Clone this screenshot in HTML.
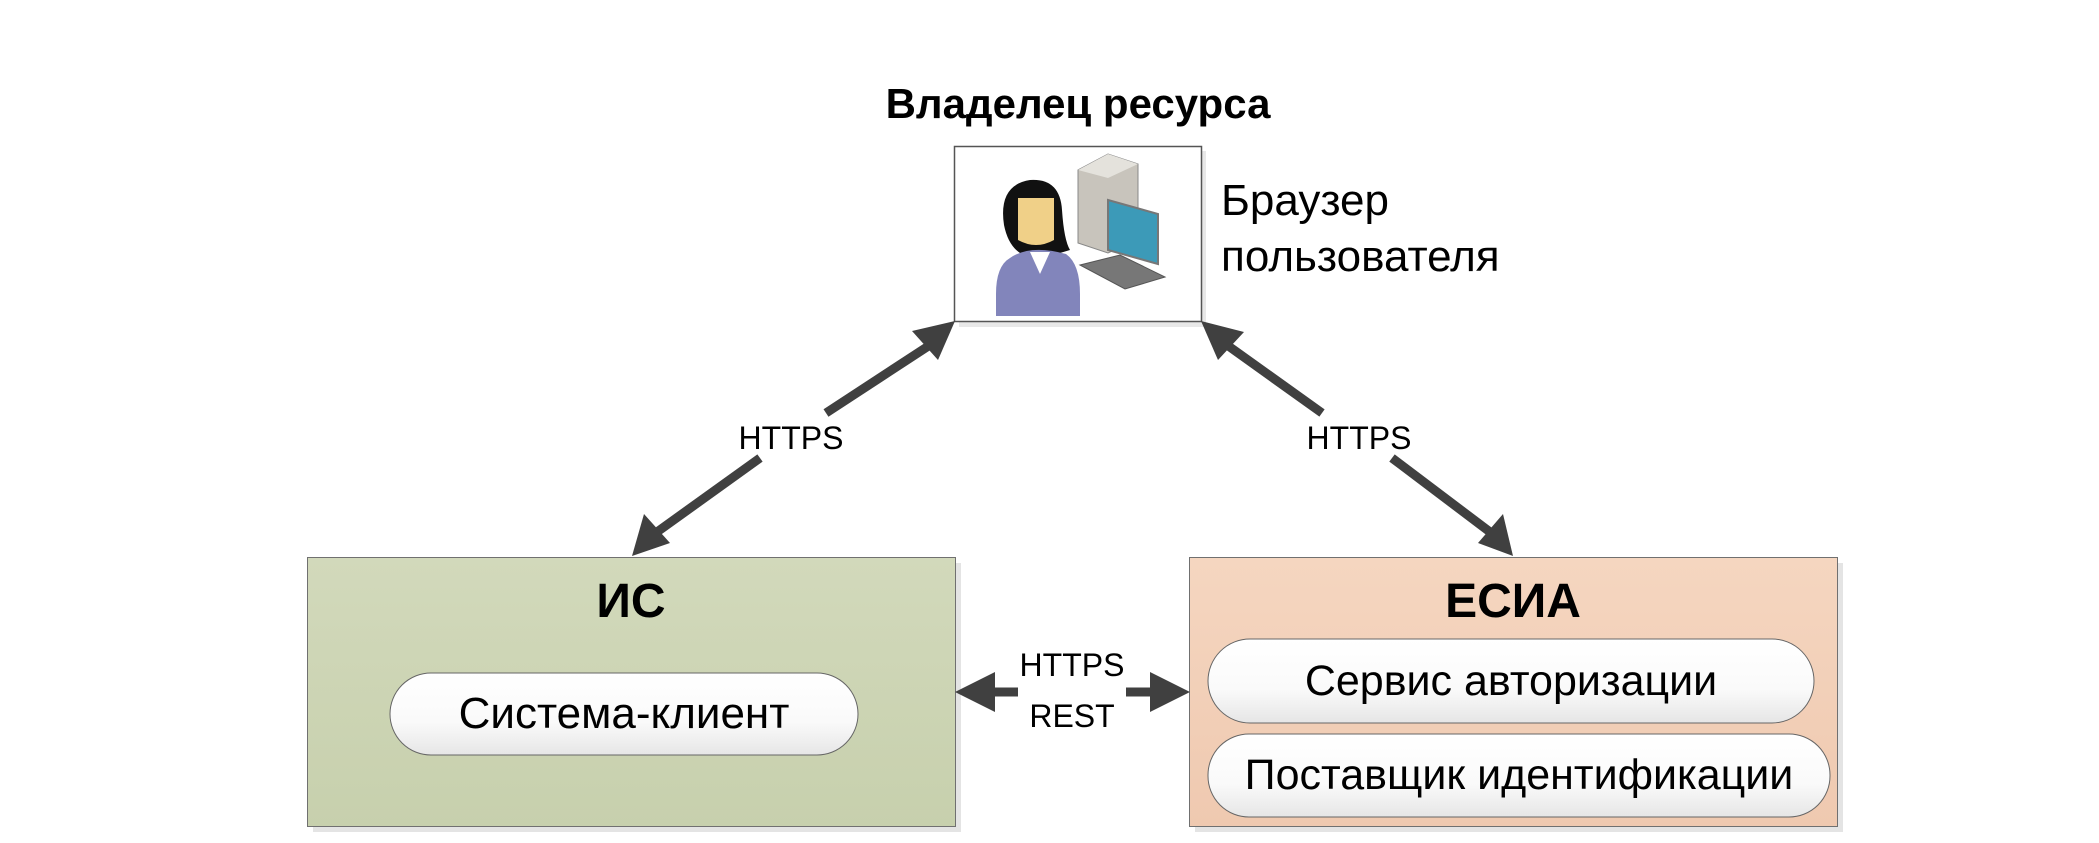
<!DOCTYPE html>
<html><head><meta charset="utf-8"><style>
html,body{margin:0;padding:0;background:#fff;}
body{width:2099px;height:843px;position:relative;overflow:hidden;font-family:"Liberation Sans","DejaVu Sans",sans-serif;}
div{white-space:nowrap;}
</style></head><body>
<svg width="2099" height="843" viewBox="0 0 2099 843" xmlns="http://www.w3.org/2000/svg" style="position:absolute;left:0;top:0">
<defs>
<linearGradient id="g1" x1="0" y1="0" x2="0" y2="1"><stop offset="0" stop-color="#d2d9bb"/><stop offset="1" stop-color="#c7d0ad"/></linearGradient>
<linearGradient id="g2" x1="0" y1="0" x2="0" y2="1"><stop offset="0" stop-color="#f5d6c0"/><stop offset="1" stop-color="#efc9b0"/></linearGradient>
<linearGradient id="pill" x1="0" y1="0" x2="0" y2="1"><stop offset="0" stop-color="#ffffff"/><stop offset="0.6" stop-color="#fafafa"/><stop offset="1" stop-color="#e6e6e6"/></linearGradient>
</defs>
<rect x="313" y="563" width="648" height="269" fill="#e4e4e4"/>
<rect x="1195" y="563" width="648" height="269" fill="#e4e4e4"/>
<rect x="959" y="151" width="247" height="176" fill="#e8e8e8"/>
<rect x="307.5" y="557.5" width="648" height="269" fill="url(#g1)" stroke="#707070" stroke-width="1"/>
<rect x="1189.5" y="557.5" width="648" height="269" fill="url(#g2)" stroke="#707070" stroke-width="1"/>
<rect x="954.5" y="146.5" width="247" height="175" fill="#fff" stroke="#555" stroke-width="1.5"/>
<rect x="390" y="673" width="468" height="82" rx="41" fill="url(#pill)" stroke="#666" stroke-width="1"/>
<rect x="1208" y="639" width="606" height="84" rx="42" fill="url(#pill)" stroke="#666" stroke-width="1"/>
<rect x="1208" y="734" width="622" height="83" rx="41" fill="url(#pill)" stroke="#666" stroke-width="1"/>
<path d="M1004 225 q-6 -40 26 -45 q30 -2 32 30 q2 30 8 40 l-10 3 q-20 5 -40 0 q-12 -8 -16 -28z" fill="#111"/>
<path d="M1018 198 h36 v42 q-18 10 -36 0z" fill="#f0d088"/>
<path d="M1010 258 q20 -14 56 -4 q14 10 14 40 v22 h-84 v-22 q0 -28 14 -36z" fill="#8285bb"/>
<path d="M1030 252 l10 22 l10 -22z" fill="#fff"/>
<path d="M1078 170 l30 -16 l30 10 v75 l-30 14 l-30 -10z" fill="#c8c4bc" stroke="#888" stroke-width="1"/>
<path d="M1108 154 l30 10 l-30 14 l-30 -8z" fill="#e4e2dc"/>
<path d="M1108 200 l50 14 v50 l-50 -14z" fill="#3c9ab8" stroke="#777" stroke-width="2"/>
<path d="M1080 265 l40 -10 l45 22 l-40 12z" fill="#777" stroke="#555" stroke-width="1"/>
</svg>
<svg width="2099" height="843" style="position:absolute;left:0;top:0" xmlns="http://www.w3.org/2000/svg">
<g stroke="#404040" stroke-width="9" fill="none">
<line x1="930" y1="345" x2="826" y2="413"/>
<line x1="760" y1="458" x2="657" y2="532"/>
<line x1="1227" y1="345" x2="1322" y2="413"/>
<line x1="1392" y1="458" x2="1490" y2="532"/>
<line x1="993" y1="692" x2="1018" y2="692"/>
<line x1="1126" y1="692" x2="1152" y2="692"/>
</g>
<g fill="#404040">
<polygon points="955,321 912,331 938,360"/>
<polygon points="632,556 644,514 670,543"/>
<polygon points="1201,321 1218,360 1244,332"/>
<polygon points="1513,556 1478,543 1503,514"/>
<polygon points="955,692 995,672 995,712"/>
<polygon points="1190,692 1150,672 1150,712"/>
</g>
</svg>
<div style="position:absolute;left:778px;top:80px;width:600px;text-align:center;font-weight:bold;font-size:42px;line-height:48px">Владелец ресурса</div>
<div style="position:absolute;left:1221px;top:173px;font-size:44px;line-height:56px">Браузер<br>пользователя</div>
<div style="position:absolute;left:711px;top:419px;width:160px;text-align:center;font-size:32px;line-height:38px">HTTPS</div>
<div style="position:absolute;left:1279px;top:419px;width:160px;text-align:center;font-size:32px;line-height:38px">HTTPS</div>
<div style="position:absolute;left:992px;top:640px;width:160px;text-align:center;font-size:32px;line-height:51px">HTTPS<br>REST</div>
<div style="position:absolute;left:307px;top:574px;width:648px;text-align:center;font-weight:bold;font-size:48px;line-height:56px">ИС</div>
<div style="position:absolute;left:1189px;top:574px;width:648px;text-align:center;font-weight:bold;font-size:48px;line-height:56px">ЕСИА</div>
<div style="position:absolute;left:390px;top:673px;width:468px;text-align:center;font-size:44px;line-height:82px">Система-клиент</div>
<div style="position:absolute;left:1208px;top:639px;width:606px;text-align:center;font-size:43px;line-height:84px">Сервис авторизации</div>
<div style="position:absolute;left:1208px;top:734px;width:622px;text-align:center;font-size:43px;line-height:83px">Поставщик идентификации</div>
</body></html>
